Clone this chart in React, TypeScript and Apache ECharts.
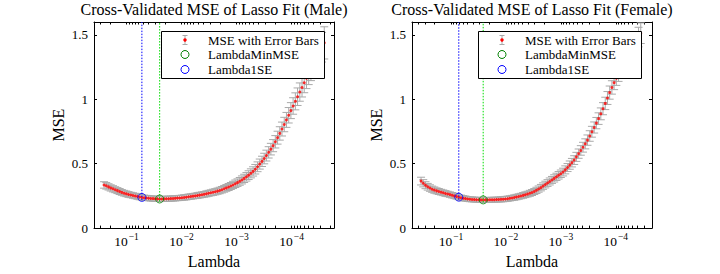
import React, { useEffect, useRef } from 'react';
import * as echarts from 'echarts';

const FONT = "'Liberation Serif', 'DejaVu Serif', serif";

// ---- Male fit: log10(Lambda), cross-validated MSE and its standard error ----
const maleLog10Lambda = [
  -0.593, -0.633, -0.674, -0.714, -0.755, -0.795, -0.835, -0.876, -0.916, -0.957,
  -0.997, -1.037, -1.078, -1.118, -1.159, -1.199, -1.239, -1.280, -1.320, -1.361,
  -1.401, -1.441, -1.482, -1.522, -1.563, -1.603, -1.644, -1.684, -1.724, -1.765,
  -1.805, -1.846, -1.886, -1.926, -1.967, -2.007, -2.048, -2.088, -2.128, -2.169,
  -2.209, -2.250, -2.290, -2.330, -2.371, -2.411, -2.452, -2.492, -2.532, -2.573,
  -2.613, -2.654, -2.694, -2.734, -2.775, -2.815, -2.856, -2.896, -2.936, -2.977,
  -3.017, -3.058, -3.098, -3.138, -3.179, -3.219, -3.260, -3.300, -3.340, -3.381,
  -3.421, -3.462, -3.502, -3.542, -3.583, -3.623, -3.664, -3.704, -3.745, -3.785,
  -3.825, -3.866, -3.906, -3.947, -3.987, -4.027, -4.068, -4.108, -4.149, -4.189,
  -4.229, -4.270, -4.310, -4.351, -4.391, -4.431, -4.472, -4.512, -4.553, -4.593,
];
const maleMSE = [
  0.335, 0.328, 0.320, 0.312, 0.305, 0.298, 0.291, 0.284, 0.277, 0.271,
  0.266, 0.261, 0.257, 0.253, 0.249, 0.245, 0.241, 0.238, 0.236, 0.234,
  0.232, 0.230, 0.229, 0.228, 0.2268, 0.2260, 0.2263, 0.2268, 0.2275, 0.2283,
  0.2292, 0.230, 0.231, 0.233, 0.234, 0.236, 0.238, 0.240, 0.243, 0.245,
  0.248, 0.250, 0.253, 0.256, 0.259, 0.262, 0.266, 0.270, 0.274, 0.278,
  0.282, 0.287, 0.292, 0.298, 0.305, 0.312, 0.319, 0.327, 0.335, 0.344,
  0.353, 0.363, 0.374, 0.386, 0.398, 0.411, 0.425, 0.440, 0.457, 0.476,
  0.497, 0.518, 0.540, 0.563, 0.588, 0.613, 0.640, 0.670, 0.702, 0.735,
  0.769, 0.804, 0.840, 0.876, 0.912, 0.948, 0.984, 1.020, 1.056, 1.092,
  1.128, 1.163, 1.198, 1.233, 1.268, 1.302, 1.336, 1.370, 1.404, 1.438,
];
const maleSE = [
  0.025, 0.025, 0.024, 0.024, 0.024, 0.023, 0.023, 0.023, 0.022, 0.022,
  0.022, 0.022, 0.021, 0.021, 0.021, 0.021, 0.021, 0.021, 0.020, 0.020,
  0.020, 0.020, 0.020, 0.020, 0.020, 0.020, 0.020, 0.020, 0.020, 0.020,
  0.020, 0.020, 0.020, 0.020, 0.020, 0.020, 0.021, 0.021, 0.021, 0.021,
  0.021, 0.021, 0.022, 0.022, 0.022, 0.022, 0.023, 0.023, 0.023, 0.024,
  0.024, 0.024, 0.025, 0.025, 0.026, 0.026, 0.027, 0.027, 0.028, 0.029,
  0.029, 0.030, 0.031, 0.032, 0.033, 0.034, 0.035, 0.036, 0.037, 0.038,
  0.039, 0.040, 0.041, 0.042, 0.044, 0.045, 0.047, 0.048, 0.050, 0.052,
  0.054, 0.056, 0.058, 0.060, 0.062, 0.064, 0.066, 0.068, 0.071, 0.074,
  0.077, 0.080, 0.084, 0.088, 0.092, 0.097, 0.102, 0.108, 0.115, 0.125,
];
const maleIndexMinMSE = 25;
const maleIndex1SE = 17;

// ---- Female fit ----
const femaleLog10Lambda = [
  -0.455, -0.495, -0.536, -0.576, -0.617, -0.657, -0.697, -0.738, -0.778, -0.819,
  -0.859, -0.899, -0.940, -0.980, -1.021, -1.061, -1.101, -1.142, -1.182, -1.223,
  -1.263, -1.303, -1.344, -1.384, -1.425, -1.465, -1.506, -1.546, -1.586, -1.627,
  -1.667, -1.708, -1.748, -1.788, -1.829, -1.869, -1.910, -1.950, -1.990, -2.031,
  -2.071, -2.112, -2.152, -2.192, -2.233, -2.273, -2.314, -2.354, -2.394, -2.435,
  -2.475, -2.516, -2.556, -2.596, -2.637, -2.677, -2.718, -2.758, -2.798, -2.839,
  -2.879, -2.920, -2.960, -3.000, -3.041, -3.081, -3.122, -3.162, -3.202, -3.243,
  -3.283, -3.324, -3.364, -3.404, -3.445, -3.485, -3.526, -3.566, -3.607, -3.647,
  -3.687, -3.728, -3.768, -3.809, -3.849, -3.889, -3.930, -3.970, -4.011, -4.051,
  -4.091, -4.132, -4.172, -4.213, -4.253, -4.293, -4.334, -4.374, -4.415, -4.455,
];
const femaleMSE = [
  0.365, 0.348, 0.333, 0.321, 0.311, 0.302, 0.295, 0.289, 0.284, 0.279,
  0.274, 0.269, 0.265, 0.260, 0.255, 0.250, 0.245, 0.240, 0.236, 0.232,
  0.229, 0.226, 0.224, 0.2225, 0.2212, 0.2202, 0.2195, 0.2191, 0.2189, 0.2190,
  0.2192, 0.2195, 0.2199, 0.2205, 0.2212, 0.2221, 0.2232, 0.2245, 0.226, 0.228,
  0.231, 0.234, 0.237, 0.241, 0.245, 0.249, 0.254, 0.259, 0.264, 0.270,
  0.276, 0.284, 0.293, 0.303, 0.314, 0.326, 0.338, 0.350, 0.362, 0.374,
  0.386, 0.398, 0.410, 0.422, 0.435, 0.452, 0.470, 0.489, 0.508, 0.528,
  0.553, 0.578, 0.603, 0.628, 0.654, 0.683, 0.715, 0.748, 0.781, 0.815,
  0.850, 0.887, 0.927, 0.968, 1.010, 1.052, 1.092, 1.129, 1.163, 1.196,
  1.228, 1.260, 1.292, 1.324, 1.356, 1.388, 1.420, 1.452, 1.483, 1.513,
];
const femaleSE = [
  0.030, 0.028, 0.027, 0.026, 0.025, 0.024, 0.024, 0.023, 0.023, 0.022,
  0.022, 0.022, 0.021, 0.021, 0.021, 0.021, 0.020, 0.020, 0.020, 0.020,
  0.020, 0.019, 0.019, 0.019, 0.019, 0.019, 0.019, 0.019, 0.019, 0.019,
  0.019, 0.019, 0.019, 0.019, 0.019, 0.019, 0.020, 0.020, 0.020, 0.020,
  0.020, 0.020, 0.021, 0.021, 0.021, 0.021, 0.022, 0.022, 0.022, 0.023,
  0.023, 0.023, 0.024, 0.024, 0.025, 0.025, 0.026, 0.026, 0.027, 0.027,
  0.028, 0.028, 0.029, 0.029, 0.030, 0.031, 0.031, 0.032, 0.033, 0.034,
  0.035, 0.036, 0.037, 0.038, 0.039, 0.040, 0.041, 0.042, 0.043, 0.044,
  0.045, 0.046, 0.047, 0.048, 0.050, 0.051, 0.052, 0.054, 0.055, 0.057,
  0.058, 0.060, 0.062, 0.064, 0.066, 0.068, 0.070, 0.073, 0.076, 0.080,
];
const femaleIndexMinMSE = 28;
const femaleIndex1SE = 17;

// Axis ticks
const xMajorExponents = [-4, -3, -2, -1];
const yTickValues = [0, 0.5, 1, 1.5];
const yMax = 1.6;

const legendLabels = ['MSE with Error Bars', 'LambdaMinMSE', 'Lambda1SE'];

const panels = [
  {
    title: 'Cross-Validated MSE of Lasso Fit (Male)',
    logLambda: maleLog10Lambda, mse: maleMSE, se: maleSE,
    iMin: maleIndexMinMSE, i1SE: maleIndex1SE,
  },
  {
    title: 'Cross-Validated MSE of Lasso Fit (Female)',
    logLambda: femaleLog10Lambda, mse: femaleMSE, se: femaleSE,
    iMin: femaleIndexMinMSE, i1SE: femaleIndex1SE,
  },
];

// Layout of each subplot (pixels, x range in log10 units)
const layouts = [
  { left: 94, top: 22, width: 240, height: 211, xMin: -4.77, xMax: -0.41, legendX: 161.5 },
  { left: 412, top: 22, width: 240, height: 211, xMin: -4.66, xMax: -0.29, legendX: 478.5 },
];

const BAR_GRAY = '#a9a9a9';
const BLUE = '#0000ff';
const GREEN_DARK = '#008000';
const GREEN_LINE = '#00dd00';

function minorTicks(min: number, max: number): number[] {
  const out: number[] = [];
  for (let k = -6; k <= 0; k++) {
    for (let m = 1; m <= 9; m++) {
      const v = k + Math.log10(m);
      if (v > min && v < max) out.push(v);
    }
  }
  return out;
}

function legendElements(x0: number) {
  const y0 = 31.5;
  const w = 163;
  const h = 47;
  const ix = x0 + 23.5;
  const tx = x0 + 46.5;
  const rows = [y0 + 8.5, y0 + 23, y0 + 38];
  const els: any[] = [
    {
      type: 'rect', z: 100,
      shape: { x: x0, y: y0, width: w, height: h },
      style: { fill: '#ffffff', stroke: '#000000', lineWidth: 1 },
    },
    { type: 'line', z: 101, shape: { x1: ix, y1: rows[0] - 4.5, x2: ix, y2: rows[0] + 4.5 }, style: { stroke: BAR_GRAY, lineWidth: 1 } },
    { type: 'line', z: 101, shape: { x1: ix - 2.5, y1: rows[0] - 4.5, x2: ix + 2.5, y2: rows[0] - 4.5 }, style: { stroke: BAR_GRAY, lineWidth: 1 } },
    { type: 'line', z: 101, shape: { x1: ix - 2.5, y1: rows[0] + 4.5, x2: ix + 2.5, y2: rows[0] + 4.5 }, style: { stroke: BAR_GRAY, lineWidth: 1 } },
    { type: 'circle', z: 102, shape: { cx: ix, cy: rows[0], r: 1.7 }, style: { fill: '#ff0000' } },
    { type: 'circle', z: 101, shape: { cx: ix, cy: rows[1], r: 4 }, style: { fill: 'none', stroke: GREEN_DARK, lineWidth: 1 } },
    { type: 'circle', z: 101, shape: { cx: ix, cy: rows[2], r: 4 }, style: { fill: 'none', stroke: BLUE, lineWidth: 1 } },
  ];
  legendLabels.forEach((t, k) => {
    els.push({
      type: 'text', z: 101, x: tx, y: rows[k],
      style: { text: t, fontFamily: FONT, fontSize: 13, fill: '#000', align: 'left', verticalAlign: 'middle' },
    });
  });
  return els;
}

function buildOption() {
  const grid: any[] = [];
  const xAxis: any[] = [];
  const yAxis: any[] = [];
  const series: any[] = [];
  const title: any[] = [];
  let graphics: any[] = [];

  panels.forEach((p, pi) => {
    const L = layouts[pi];
    grid.push({ left: L.left, top: L.top, width: L.width, height: L.height, containLabel: false });
    title.push({
      text: p.title, left: L.left + L.width / 2, top: 1.5, textAlign: 'center', padding: 0,
      textStyle: { fontFamily: FONT, fontSize: 16, fontWeight: 'normal', color: '#000' },
    });

    const tickVals = minorTicks(L.xMin, L.xMax);
    const baseX = {
      type: 'value', gridIndex: pi, min: L.xMin, max: L.xMax, inverse: true,
      splitLine: { show: false },
      axisLine: { show: true, onZero: false, lineStyle: { color: '#000', width: 1 } },
      axisTick: { show: true, inside: true, length: 2.5, customValues: tickVals, lineStyle: { color: '#000', width: 1 } },
    };
    xAxis.push({
      ...baseX, position: 'bottom',
      axisLabel: {
        show: true, customValues: xMajorExponents, margin: 4,
        formatter: (v: number) => `{b|10}{s|\u2212${Math.round(-v)}}`,
        rich: {
          b: { fontFamily: FONT, fontSize: 13.5, color: '#000' },
          s: { fontFamily: FONT, fontSize: 9.5, color: '#000', padding: [0, 0, 8, 1] },
        },
      },
      name: 'Lambda', nameLocation: 'middle', nameGap: 21,
      nameTextStyle: { fontFamily: FONT, fontSize: 16, color: '#000' },
    });
    xAxis.push({ ...baseX, position: 'top', axisLabel: { show: false } });

    const baseY = {
      type: 'value', gridIndex: pi, min: 0, max: yMax,
      splitLine: { show: false },
      axisLine: { show: true, onZero: false, lineStyle: { color: '#000', width: 1 } },
      axisTick: { show: true, inside: true, length: 3, customValues: yTickValues, lineStyle: { color: '#000', width: 1 } },
    };
    yAxis.push({
      ...baseY, position: 'left',
      axisLabel: {
        show: true, customValues: yTickValues, margin: 6,
        fontFamily: FONT, fontSize: 13, color: '#000',
        formatter: (v: number) => String(v),
      },
      name: 'MSE', nameLocation: 'middle', nameGap: 28, nameRotate: 90,
      nameTextStyle: { fontFamily: FONT, fontSize: 16, color: '#000' },
    });
    yAxis.push({ ...baseY, position: 'right', axisLabel: { show: false } });

    const xi = pi * 2;
    const yi = pi * 2;
    const rows = p.logLambda.map((x, i) => [x, p.mse[i], p.se[i]]);

    series.push({
      type: 'custom', xAxisIndex: xi, yAxisIndex: yi, silent: true, clip: true, z: 2,
      data: rows,
      encode: { x: 0, y: 1 },
      renderItem: (_params: any, api: any) => {
        const x = api.value(0);
        const m = api.value(1);
        const s = api.value(2);
        const top = api.coord([x, m + s]);
        const bot = api.coord([x, m - s]);
        const hw = 4;
        const style = { stroke: BAR_GRAY, lineWidth: 1, fill: 'none' };
        return {
          type: 'group',
          children: [
            { type: 'line', shape: { x1: top[0], y1: top[1], x2: bot[0], y2: bot[1] }, style },
            { type: 'line', shape: { x1: top[0] - hw, y1: top[1], x2: top[0] + hw, y2: top[1] }, style },
            { type: 'line', shape: { x1: bot[0] - hw, y1: bot[1], x2: bot[0] + hw, y2: bot[1] }, style },
          ],
        };
      },
    });
    series.push({
      type: 'scatter', xAxisIndex: xi, yAxisIndex: yi, silent: true, z: 3,
      symbol: 'circle', symbolSize: 3,
      itemStyle: { color: '#ff0000' },
      data: rows.map((r) => [r[0], r[1]]),
    });

    const marks = [
      { i: p.i1SE, lineColor: BLUE, circleColor: BLUE },
      { i: p.iMin, lineColor: GREEN_LINE, circleColor: GREEN_DARK },
    ];
    marks.forEach((mk) => {
      const x = p.logLambda[mk.i];
      const m = p.mse[mk.i];
      const s = p.se[mk.i];
      series.push({
        type: 'line', xAxisIndex: xi, yAxisIndex: yi, silent: true, z: 4,
        symbol: 'none',
        lineStyle: { color: mk.lineColor, width: 1, type: [1.5, 1.5] },
        data: [[x, m - s], [x, yMax]],
      });
      series.push({
        type: 'scatter', xAxisIndex: xi, yAxisIndex: yi, silent: true, z: 5,
        symbol: 'circle', symbolSize: 8,
        itemStyle: { color: 'rgba(0,0,0,0)', borderColor: mk.circleColor, borderWidth: 1 },
        data: [[x, m]],
      });
    });

    graphics = graphics.concat(legendElements(L.legendX));
  });

  return {
    animation: false,
    backgroundColor: '#ffffff',
    textStyle: { fontFamily: FONT },
    title,
    grid,
    xAxis,
    yAxis,
    series,
    graphic: { elements: graphics },
  };
}

export default function App() {
  const ref = useRef<HTMLDivElement>(null);
  useEffect(() => {
    if (!ref.current) return;
    const chart = echarts.init(ref.current, undefined, { renderer: 'svg' });
    chart.setOption(buildOption() as any);
    return () => chart.dispose();
  }, []);
  return (
    <div
      ref={ref}
      style={{ position: 'fixed', left: 0, top: 0, width: 720, height: 274, background: '#fff' }}
    />
  );
}
